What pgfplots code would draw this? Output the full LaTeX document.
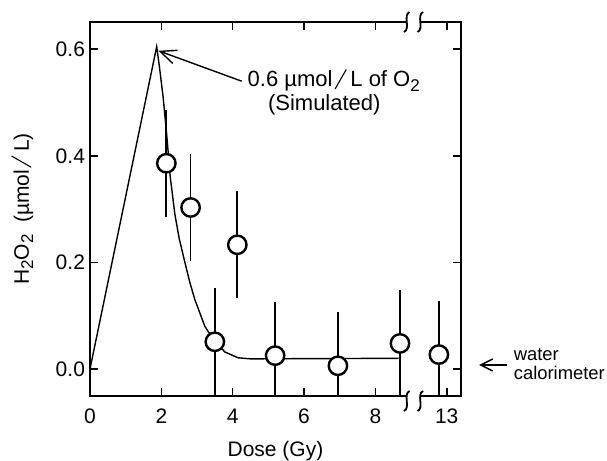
\documentclass[border=0pt]{standalone}
\usepackage{fontspec}
\setmainfont{Liberation Sans}
\usepackage{pgfplots}
\pgfplotsset{compat=1.18}
\usetikzlibrary{arrows.meta}

% wide, thin slash used in the units
\newcommand{\bigsl}{\kern1pt\tikz[baseline=0pt]\draw[line width=0.55pt, black] (0pt,-1.2pt) -- (5.6pt,8.6pt);\kern1.8pt}
\newcommand{\sub}[1]{\raisebox{-0.4ex}{\fontsize{8.5}{9}\selectfont #1}}
% axis-break squiggle: #1 point, #2 extra vertical offset
\newcommand{\brk}[2]{\draw[line width=0.9pt] ([xshift=1.4pt,yshift=5pt+#2]#1) .. controls +(-3.5pt,-1.5pt) and +(3.5pt,1.5pt) .. ++(-2.8pt,-10pt);}

\begin{document}
\begin{tikzpicture}
\useasboundingbox (-45pt,-32.5pt) rectangle (258.5pt,198pt);
\begin{axis}[
    at={(0pt,0pt)}, anchor=south west,
    scale only axis, width=185.5pt, height=187pt,
    xmin=0, xmax=10.4, ymin=-0.0507, ymax=0.651,
    % broken axis: 13 Gy is drawn at 10
    xtick={0,2,4,6,8,10}, xticklabels={0,2,4,6,8,13},
    ytick={0,0.2,0.4,0.6},
    yticklabel style={xshift=1pt, /pgf/number format/.cd,fixed,fixed zerofill,precision=1},
    /pgf/number format/assume math mode=true,
    tick align=inside, major tick length=4pt,
    tick style={line width=0.8pt, black},
    axis line style={line width=1pt},
    clip mode=individual,
    ticklabel style={font=\fontsize{10.5}{12}\selectfont},
    xticklabel style={yshift=-3pt},
    every axis x label/.style={at={(axis description cs:0.5,-0.148)}, anchor=center},
    every axis y label/.style={at={(axis description cs:-0.183,0.5)}, anchor=center, rotate=90},
    label style={font=\fontsize{10.5}{12}\selectfont},
    xlabel={Dose (Gy)},
    ylabel={H\sub{2}O\sub{2}\ \ (µmol\bigsl L)},
    after end axis/.code={
        \fill[white] ([yshift=-2pt]axis cs:8.90,0.651) rectangle ([yshift=2pt]axis cs:9.24,0.651);
        \fill[white] ([yshift=-2pt]axis cs:8.90,-0.0507) rectangle ([yshift=2pt]axis cs:9.24,-0.0507);
        \brk{axis cs:8.88,0.651}{0pt}
        \brk{axis cs:9.26,0.651}{0pt}
        \brk{axis cs:8.88,-0.0507}{-2.5pt}
        \brk{axis cs:9.26,-0.0507}{-2.5pt}
    },
]
% simulated curve
\addplot[black, line width=0.7pt, no marks] coordinates {
    (0,0) (1.87,0.605) (1.95,0.565) (2.05,0.51) (2.15,0.44) (2.25,0.36)
    (2.38,0.29) (2.50,0.245) (2.66,0.20) (2.80,0.162) (2.94,0.13)
    (3.22,0.08) (3.47,0.054) (3.78,0.032) (4.15,0.021) (4.50,0.019) (8.65,0.020)
};
% measured H2O2 (last point is 12.8 Gy, drawn past the break)
\addplot[only marks, mark=*, mark size=4.6pt,
    mark options={fill=white, draw=black, line width=1.2pt},
    error bars/.cd, y dir=both, y explicit, error mark=none,
    error bar style={line width=0.9pt, black}]
    coordinates {
    (2.14,0.386) +- (0,0.10)
    (2.82,0.303) +- (0,0.10)
    (4.13,0.233) +- (0,0.10)
    (3.50,0.051) +- (0,0.101)
    (5.19,0.025) +- (0,0.10)
    (6.95,0.006) +- (0,0.10)
    (8.69,0.048) +- (0,0.10)
    (9.78,0.027) +- (0,0.10)
};
\draw[-{Straight Barb[length=8pt,width=7pt]}, line width=0.7pt]
    (axis cs:4.25,0.540) -- (axis cs:1.92,0.597);
\node[anchor=west, inner sep=0pt, font=\fontsize{11}{12.5}\selectfont] at (axis cs:4.41,0.542)
    {0.6 µmol\bigsl L of O\sub{2}};
\node[anchor=west, inner sep=0pt, font=\fontsize{11}{12.5}\selectfont] at (axis cs:4.98,0.495)
    {(Simulated)};
\draw[-{Straight Barb[length=6pt,width=6pt]}, line width=0.7pt]
    (axis cs:11.69,0.0075) -- (axis cs:10.91,0.0075);
\node[anchor=west, align=left, inner sep=0pt, font=\fontsize{9.2}{9.6}\selectfont] at (axis cs:11.87,0.009)
    {water\\calorimeter};
\end{axis}
\end{tikzpicture}
\end{document}
